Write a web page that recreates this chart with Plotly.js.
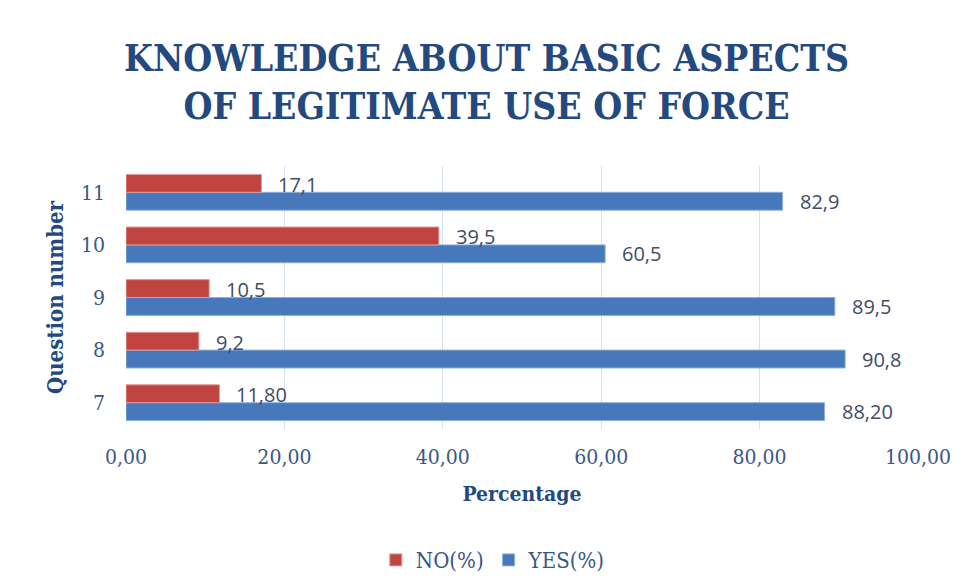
<!DOCTYPE html>
<html><head><meta charset="utf-8">
<script src="https://cdn.plot.ly/plotly-3.0.1.min.js"></script>
<style>html,body{margin:0;padding:0;background:#fff;}#chart{width:973px;height:581px;}</style>
</head><body><div id="chart"></div>
<script>
const questions = ['7', '8', '9', '10', '11'];
const noValues = [11.8, 9.2, 10.5, 39.5, 17.1];
const yesValues = [88.2, 90.8, 89.5, 60.5, 82.9];
const noLabels = ['11,80', '9,2', '10,5', '39,5', '17,1'];
const yesLabels = ['88,20', '90,8', '89,5', '60,5', '82,9'];
const xTicks = [0, 20, 40, 60, 80, 100];

const navy = '#24497f';
const tickCol = '#3b5784';
const labelCol = '#3f4d66';

const traces = [
  {type: 'bar', orientation: 'h', name: 'YES(%)', y: questions, x: yesValues,
   marker: {color: '#4678bb', line: {color: '#8fb0dc', width: 1}}, legendrank: 2, hoverinfo: 'none'},
  {type: 'bar', orientation: 'h', name: 'NO(%)', y: questions, x: noValues,
   marker: {color: '#c24441', line: {color: '#e09a98', width: 1}}, legendrank: 1, hoverinfo: 'none'}
];

const annotations = [];
questions.forEach((q, i) => {
  annotations.push({x: noValues[i], y: i, xref: 'x', yref: 'y', text: noLabels[i], showarrow: false,
    xanchor: 'left', yanchor: 'middle', xshift: 15, yshift: 8,
    font: {family: 'Open Sans, Noto Sans, sans-serif', size: 20, color: labelCol}});
  annotations.push({x: yesValues[i], y: i, xref: 'x', yref: 'y', text: yesLabels[i], showarrow: false,
    xanchor: 'left', yanchor: 'middle', xshift: 15, yshift: -9,
    font: {family: 'Open Sans, Noto Sans, sans-serif', size: 20, color: labelCol}});
});

const layout = {
  width: 973, height: 581,
  paper_bgcolor: '#ffffff', plot_bgcolor: '#ffffff',
  separators: ',.',
  margin: {l: 126, r: 55, t: 166, b: 152},
  title: {text: 'KNOWLEDGE ABOUT BASIC ASPECTS<br>OF LEGITIMATE USE OF FORCE',
    font: {family: 'DejaVu Serif Condensed, DejaVu Serif, serif', size: 37, color: navy, weight: 'bold'},
    x: 0.5, xanchor: 'center', y: 0.878, yanchor: 'top', yref: 'container'},
  barmode: 'group', bargap: 0.32, bargroupgap: 0,
  xaxis: {range: [0, 100], tickvals: xTicks, tickformat: '.2f', showgrid: true, gridcolor: '#d6e2f1', gridwidth: 1,
    zeroline: false, showline: false, ticks: '', ticklabelstandoff: 13, automargin: false,
    tickfont: {family: 'DejaVu Serif Condensed, serif', size: 21, color: tickCol},
    title: {text: 'Percentage', standoff: 18,
      font: {family: 'DejaVu Serif Condensed, serif', size: 21, color: navy, weight: 'bold'}}},
  yaxis: {type: 'category', categoryorder: 'array', categoryarray: questions, range: [-0.5, 4.5],
    tickvals: questions, showgrid: false, automargin: false,
    zeroline: false, showline: false, ticks: '', ticklabelstandoff: 20,
    tickfont: {family: 'DejaVu Serif Condensed, serif', size: 21, color: tickCol},
    title: {text: 'Question number', standoff: 11,
      font: {family: 'DejaVu Serif Condensed, serif', size: 22, color: navy, weight: 'bold'}}},
  legend: {orientation: 'h', x: 0.507, xanchor: 'center', xref: 'container', y: 0.036, yanchor: 'middle', yref: 'container',
    font: {family: 'DejaVu Serif Condensed, serif', size: 22, color: tickCol}, itemwidth: 30},
  annotations: annotations,
  showlegend: true
};

Plotly.newPlot('chart', traces, layout, {displayModeBar: false, staticPlot: true});
</script></body></html>
